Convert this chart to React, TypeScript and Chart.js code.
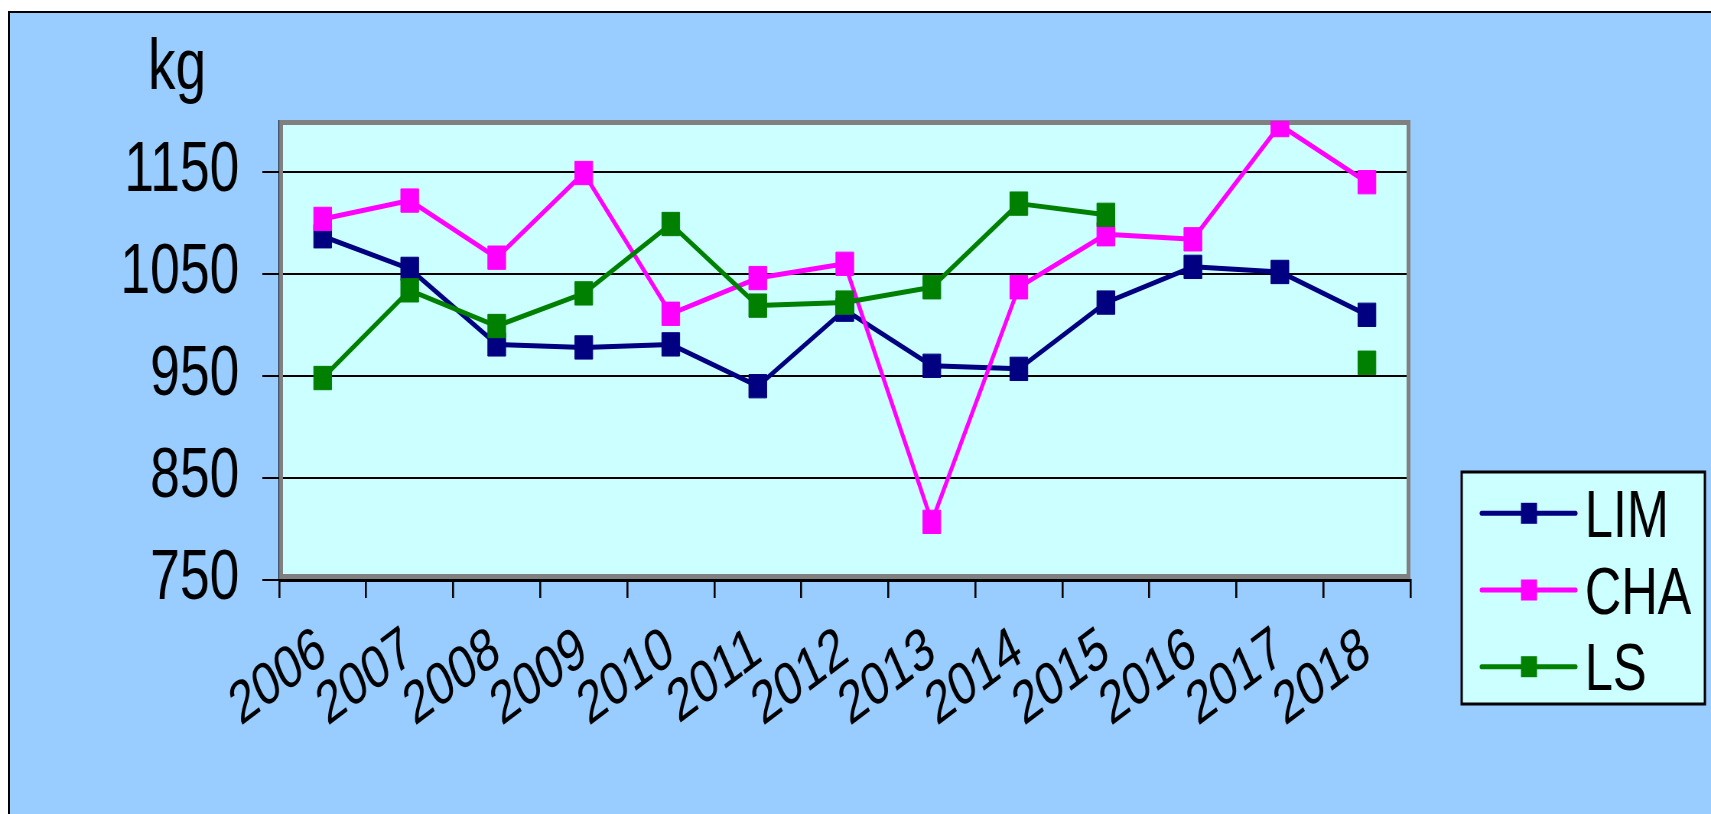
import React, { useEffect, useRef } from 'react';
import { Chart, registerables } from 'chart.js';

Chart.register(...registerables);

// ---- data ----
const YEARS = ['2006', '2007', '2008', '2009', '2010', '2011', '2012', '2013', '2014', '2015', '2016', '2017', '2018'];
const LIM = [1087, 1055, 981, 978, 981, 940, 1015, 960, 957, 1022, 1057, 1052, 1010];
const CHA = [1104, 1122, 1066, 1149, 1011, 1046, 1060, 807, 1037, 1089, 1084, 1196, 1140];
const LS = [948, 1034, 999, 1031, 1099, 1019, 1022, 1037, 1119, 1108, null, null, 963];
const SERIES_NAMES = ['LIM', 'CHA', 'LS'];
const SERIES_COLORS = ['#000080', '#FF00FF', '#008000'];
const Y_TICKS = [750, 850, 950, 1050, 1150];
const Y_MIN = 750;
const Y_MAX = 1200;
const UNIT = 'kg';

// ---- picture geometry ----
// The original picture is squeezed horizontally; we draw on a wider canvas and squeeze it with CSS.
const VIEW_W = 1711;
const VIEW_H = 814;
const CANVAS_W = 2237;
const CANVAS_H = 814;
const FONT = "'Liberation Sans', Arial, Helvetica, sans-serif";

const plotFrame = {
  id: 'plotFrame',
  beforeDraw(chart: any) {
    const { ctx, chartArea: a } = chart;
    ctx.save();
    ctx.fillStyle = '#CCFFFF';
    ctx.fillRect(a.left, a.top, a.right - a.left, a.bottom - a.top);
    ctx.restore();
  },
  beforeDatasetsDraw(chart: any) {
    const { ctx, chartArea: a } = chart;
    const w = 5;
    ctx.save();
    ctx.strokeStyle = '#808080';
    ctx.lineWidth = w;
    ctx.strokeRect(a.left + w / 2, a.top + w / 2 - 1, a.right - a.left - w, a.bottom - a.top - w);
    ctx.restore();
  },
};

const unitLabel = {
  id: 'unitLabel',
  afterDraw(chart: any, _args: any, opts: any) {
    const { ctx } = chart;
    ctx.save();
    ctx.fillStyle = '#000';
    ctx.font = `${opts.fontSize}px ${FONT}`;
    ctx.textAlign = 'left';
    ctx.textBaseline = 'alphabetic';
    ctx.fillText(opts.text, opts.x, opts.baseline);
    ctx.restore();
  },
};

const boxLegend = {
  id: 'boxLegend',
  afterDraw(chart: any, _args: any, opts: any) {
    const { ctx } = chart;
    const { left, top, right, bottom, rowTop, rowGap, lineX1, lineX2, markX, markSize, textX, fontSize } = opts;
    ctx.save();
    ctx.fillStyle = '#CCFFFF';
    ctx.fillRect(left, top, right - left, bottom - top);
    ctx.strokeStyle = '#000';
    ctx.lineWidth = 3;
    ctx.strokeRect(left, top, right - left, bottom - top);
    chart.data.datasets.forEach((ds: any, row: number) => {
      const y = rowTop + row * rowGap;
      ctx.strokeStyle = ds.borderColor;
      ctx.lineWidth = 5;
      ctx.lineCap = 'round';
      ctx.beginPath();
      ctx.moveTo(lineX1, y);
      ctx.lineTo(lineX2, y);
      ctx.stroke();
      ctx.fillStyle = ds.borderColor;
      ctx.fillRect(markX - markSize / 2, y - markSize / 2, markSize, markSize);
      ctx.fillStyle = '#000';
      ctx.font = `${fontSize}px ${FONT}`;
      ctx.textAlign = 'left';
      ctx.textBaseline = 'alphabetic';
      ctx.fillText(ds.label, textX, y + fontSize * 0.358);
    });
    ctx.restore();
  },
};

function makeDataset(i: number, data: (number | null)[], order: number) {
  const c = SERIES_COLORS[i];
  return {
    label: SERIES_NAMES[i],
    data,
    borderColor: c,
    backgroundColor: c,
    borderWidth: 5,
    borderJoinStyle: 'round' as const,
    borderCapStyle: 'round' as const,
    pointStyle: 'rect' as const,
    pointRadius: 16.5,
    pointHoverRadius: 16.5,
    pointBackgroundColor: c,
    pointBorderColor: c,
    pointBorderWidth: 1,
    tension: 0,
    spanGaps: false,
    fill: false,
    order,
  };
}

export default function App() {
  const canvasRef = useRef<HTMLCanvasElement | null>(null);

  useEffect(() => {
    if (!canvasRef.current) return;
    const chart = new Chart(canvasRef.current, {
      type: 'line',
      data: {
        labels: YEARS,
        datasets: [makeDataset(0, LIM, 2), makeDataset(1, CHA, 1), makeDataset(2, LS, 0)],
      },
      plugins: [plotFrame, unitLabel, boxLegend],
      options: {
        responsive: false,
        animation: false,
        devicePixelRatio: 1,
        events: [],
        layout: { padding: { left: 40, right: 393, top: 121, bottom: 34 } },
        scales: {
          x: {
            type: 'category',
            offset: true,
            grid: {
              offset: true,
              drawOnChartArea: false,
              drawTicks: true,
              tickLength: 18,
              color: '#000',
              lineWidth: 2.6,
            },
            border: { display: true, color: '#000', width: 3 },
            ticks: {
              autoSkip: false,
              maxRotation: 30,
              minRotation: 30,
              padding: 16,
              labelOffset: 0,
              color: '#000',
              font: { family: FONT, size: 60 },
            },
            afterFit: (s: any) => {
              s.height = 200;
            },
          },
          y: {
            type: 'linear',
            min: Y_MIN,
            max: Y_MAX,
            afterBuildTicks: (s: any) => {
              s.ticks = Y_TICKS.map((v) => ({ value: v }));
            },
            grid: { color: '#000', lineWidth: 2, tickLength: 22, drawTicks: true },
            border: { display: true, color: '#000', width: 3 },
            ticks: {
              padding: 30,
              color: '#000',
              font: { family: FONT, size: 70 },
              callback: (v: any) => String(v),
            },
            afterFit: (s: any) => {
              s.width = 325;
            },
          },
        },
        plugins: {
          legend: { display: false },
          tooltip: { enabled: false },
          title: { display: false },
          unitLabel: { text: UNIT, x: 193.5, baseline: 88.5, fontSize: 72 },
          boxLegend: {
            left: 1911,
            top: 472,
            right: 2229,
            bottom: 704,
            rowTop: 513.3,
            rowGap: 76.7,
            lineX1: 1937,
            lineX2: 2060,
            markX: 1999,
            markSize: 21,
            textX: 2072,
            fontSize: 66,
          },
        } as any,
      },
    });
    return () => chart.destroy();
  }, []);

  return (
    <div style={{ position: 'fixed', left: 0, top: 0, width: VIEW_W, height: VIEW_H, background: '#fff', overflow: 'hidden' }}>
      <div
        style={{
          position: 'absolute',
          left: 8,
          top: 11,
          width: VIEW_W + 50,
          height: VIEW_H + 50,
          background: '#99CCFF',
          borderLeft: '2px solid #000',
          borderTop: '2px solid #000',
        }}
      />
      <canvas
        ref={canvasRef}
        width={CANVAS_W}
        height={CANVAS_H}
        style={{ position: 'absolute', left: 0, top: 0, width: VIEW_W, height: VIEW_H }}
      />
    </div>
  );
}
